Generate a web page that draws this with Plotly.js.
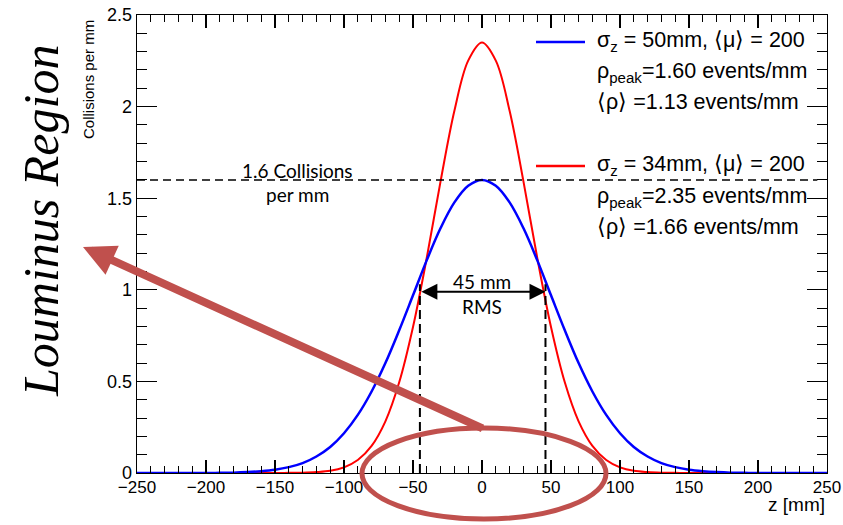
<!DOCTYPE html>
<html>
<head>
<meta charset="utf-8">
<script src="https://cdn.plot.ly/plotly-3.0.1.min.js"></script>
<style>html,body{margin:0;padding:0;background:#fff;}#chart{width:843px;height:525px;}</style>
</head>
<body>
<div id="chart"></div>
<script>
// z positions [mm]
const zValues = [-250,-240,-230,-220,-210,-200,-190,-180,-170,-160,-150,-140,-130,-120,-110,-100,-90,-80,-70,-60,-50,-40,-30,-20,-10,0,10,20,30,40,50,60,70,80,90,100,110,120,130,140,150,160,170,180,190,200,210,220,230,240,250];
// sigma_z = 50 mm, <mu> = 200 (blue)
const blueSeries = [0,0,0,0,0,0,0.001,0.002,0.005,0.010,0.018,0.032,0.054,0.090,0.142,0.217,0.317,0.445,0.600,0.779,0.970,1.162,1.337,1.477,1.568,1.600,1.568,1.477,1.337,1.162,0.970,0.779,0.600,0.445,0.317,0.217,0.142,0.090,0.054,0.032,0.018,0.010,0.005,0.002,0.001,0,0,0,0,0,0];
// sigma_z = 34 mm, <mu> = 200 (red)
const redSeries = [0,0,0,0,0,0,0,0,0,0,0,0.001,0.002,0.005,0.012,0.031,0.071,0.148,0.282,0.495,0.797,1.176,1.593,1.977,2.251,2.350,2.251,1.977,1.593,1.176,0.797,0.495,0.282,0.148,0.071,0.031,0.012,0.005,0.002,0.001,0,0,0,0,0,0,0,0,0,0,0];

const blueLegend = ["σ<sub>z</sub> = 50mm, ⟨μ⟩ = 200", "ρ<sub>peak</sub>=1.60 events/mm", "⟨ρ⟩ =1.13 events/mm"];
const redLegend = ["σ<sub>z</sub> = 34mm, ⟨μ⟩ = 200", "ρ<sub>peak</sub>=2.35 events/mm", "⟨ρ⟩ =1.66 events/mm"];
const peakLine = 1.6;
const rmsLeft = -45, rmsRight = 46;

const sansFont = "Liberation Sans, Arial, Helvetica, sans-serif";
const calFont = "Lato, Open Sans, sans-serif";
const accent = "#c0504d";

const traces = [
  {x: zValues, y: redSeries, type: 'scatter', mode: 'lines', line: {color: '#ff0000', width: 2, shape: 'spline', smoothing: 1}, hoverinfo: 'skip'},
  {x: zValues, y: blueSeries, type: 'scatter', mode: 'lines', line: {color: '#0000ff', width: 2.5, shape: 'spline', smoothing: 1}, hoverinfo: 'skip'}
];

const L = 137, R = 827, T = 15, B = 473;
const px = X => (X - L) / (R - L);
const py = Y => (B - Y) / (B - T);

const legendY = [41.7, 73, 102, 165, 197, 227];
const annotations = [];
blueLegend.concat(redLegend).forEach((t, i) => {
  annotations.push({xref: 'paper', yref: 'paper', x: px(595), y: py(legendY[i]), xanchor: 'left', yanchor: 'middle',
    text: t, showarrow: false, font: {family: sansFont, size: 21.5, color: '#000'}});
});
annotations.push(
  {xref: 'x', yref: 'y', x: -134, y: 1.65, text: '1.6 Collisions', showarrow: false, xanchor: 'center', yanchor: 'middle', font: {family: calFont, size: 19, color: '#000'}},
  {xref: 'x', yref: 'y', x: -134, y: 1.52, text: 'per mm', showarrow: false, xanchor: 'center', yanchor: 'middle', font: {family: calFont, size: 19, color: '#000'}},
  {xref: 'x', yref: 'y', x: 0, y: 1.046, text: '45 mm', showarrow: false, xanchor: 'center', yanchor: 'middle', font: {family: calFont, size: 19, color: '#000'}},
  {xref: 'x', yref: 'y', x: 0, y: 0.91, text: 'RMS', showarrow: false, xanchor: 'center', yanchor: 'middle', font: {family: calFont, size: 19, color: '#000'}},
  {xref: 'x', yref: 'y', x: rmsRight, y: 0.99, axref: 'x', ayref: 'y', ax: rmsLeft, ay: 0.99, text: '', showarrow: true,
    arrowside: 'end+start', arrowhead: 2, startarrowhead: 2, arrowsize: 1.6, startarrowsize: 1.6, arrowwidth: 2, arrowcolor: '#000'},
  {xref: 'paper', yref: 'paper', x: px(83), y: py(247), ax: 401, ay: 182, text: '', showarrow: true,
    arrowhead: 2, arrowsize: 0.8, arrowwidth: 8, arrowcolor: accent},
  {xref: 'paper', yref: 'paper', x: px(41), y: py(221), xanchor: 'center', yanchor: 'middle', text: '<i>Louminus Region</i>', textangle: -90, showarrow: false,
    font: {family: "Liberation Serif, Times New Roman, serif", size: 50, color: '#000'}},
  {xref: 'paper', yref: 'paper', x: px(88), y: py(80), xanchor: 'center', yanchor: 'middle', text: 'Collisions per mm', textangle: -90, showarrow: false,
    font: {family: sansFont, size: 15, color: '#000'}},
  {xref: 'paper', yref: 'paper', x: 1, y: py(504), xanchor: 'right', yanchor: 'middle', text: 'z [mm]', showarrow: false,
    font: {family: sansFont, size: 19, color: '#000'}}
);

const shapes = [
  {type: 'line', xref: 'x', yref: 'y', x0: -250, x1: 243, y0: peakLine, y1: peakLine, line: {color: '#000', width: 1.5, dash: '8px,5px'}},
  {type: 'line', xref: 'x', yref: 'y', x0: rmsLeft, x1: rmsLeft, y0: 0, y1: 1.03, line: {color: '#000', width: 2, dash: '9px,5px'}},
  {type: 'line', xref: 'x', yref: 'y', x0: rmsRight, x1: rmsRight, y0: 0, y1: 1.03, line: {color: '#000', width: 2, dash: '9px,5px'}},
  {type: 'line', xref: 'paper', yref: 'paper', x0: px(536), x1: px(585), y0: py(42), y1: py(42), line: {color: '#0000ff', width: 2.5}},
  {type: 'line', xref: 'paper', yref: 'paper', x0: px(536), x1: px(585), y0: py(166), y1: py(166), line: {color: '#ff0000', width: 2.5}},
  {type: 'circle', xref: 'paper', yref: 'paper', x0: px(362), x1: px(606), y0: py(519), y1: py(428), line: {color: accent, width: 5}, layer: 'above'}
];

const axisCommon = {
  ticks: 'inside', tickcolor: '#000', tickwidth: 1.2, showline: true, linecolor: '#000', linewidth: 1.3,
  mirror: 'ticks', showgrid: false, zeroline: false, fixedrange: true,
  tickfont: {family: sansFont, size: 17, color: '#000'}
};

const layout = {
  width: 843, height: 525,
  margin: {l: L, r: 843 - R, t: T, b: 525 - B},
  paper_bgcolor: '#fff', plot_bgcolor: '#fff',
  showlegend: false,
  xaxis: Object.assign({}, axisCommon, {range: [-250, 250], tick0: 0, dtick: 50, ticklen: 13, ticklabelstandoff: -2,
    minor: {dtick: 10, ticks: 'inside', ticklen: 7, tickwidth: 1, tickcolor: '#000', showgrid: false}}),
  yaxis: Object.assign({}, axisCommon, {range: [0, 2.5], tick0: 0, dtick: 0.5, ticklen: 20,
    tickfont: {family: sansFont, size: 18, color: '#000'},
    minor: {dtick: 0.1, ticks: 'inside', ticklen: 10, tickwidth: 1, tickcolor: '#000', showgrid: false}}),
  annotations: annotations,
  shapes: shapes
};

Plotly.newPlot('chart', traces, layout, {displayModeBar: false, staticPlot: true});
</script>
</body>
</html>
